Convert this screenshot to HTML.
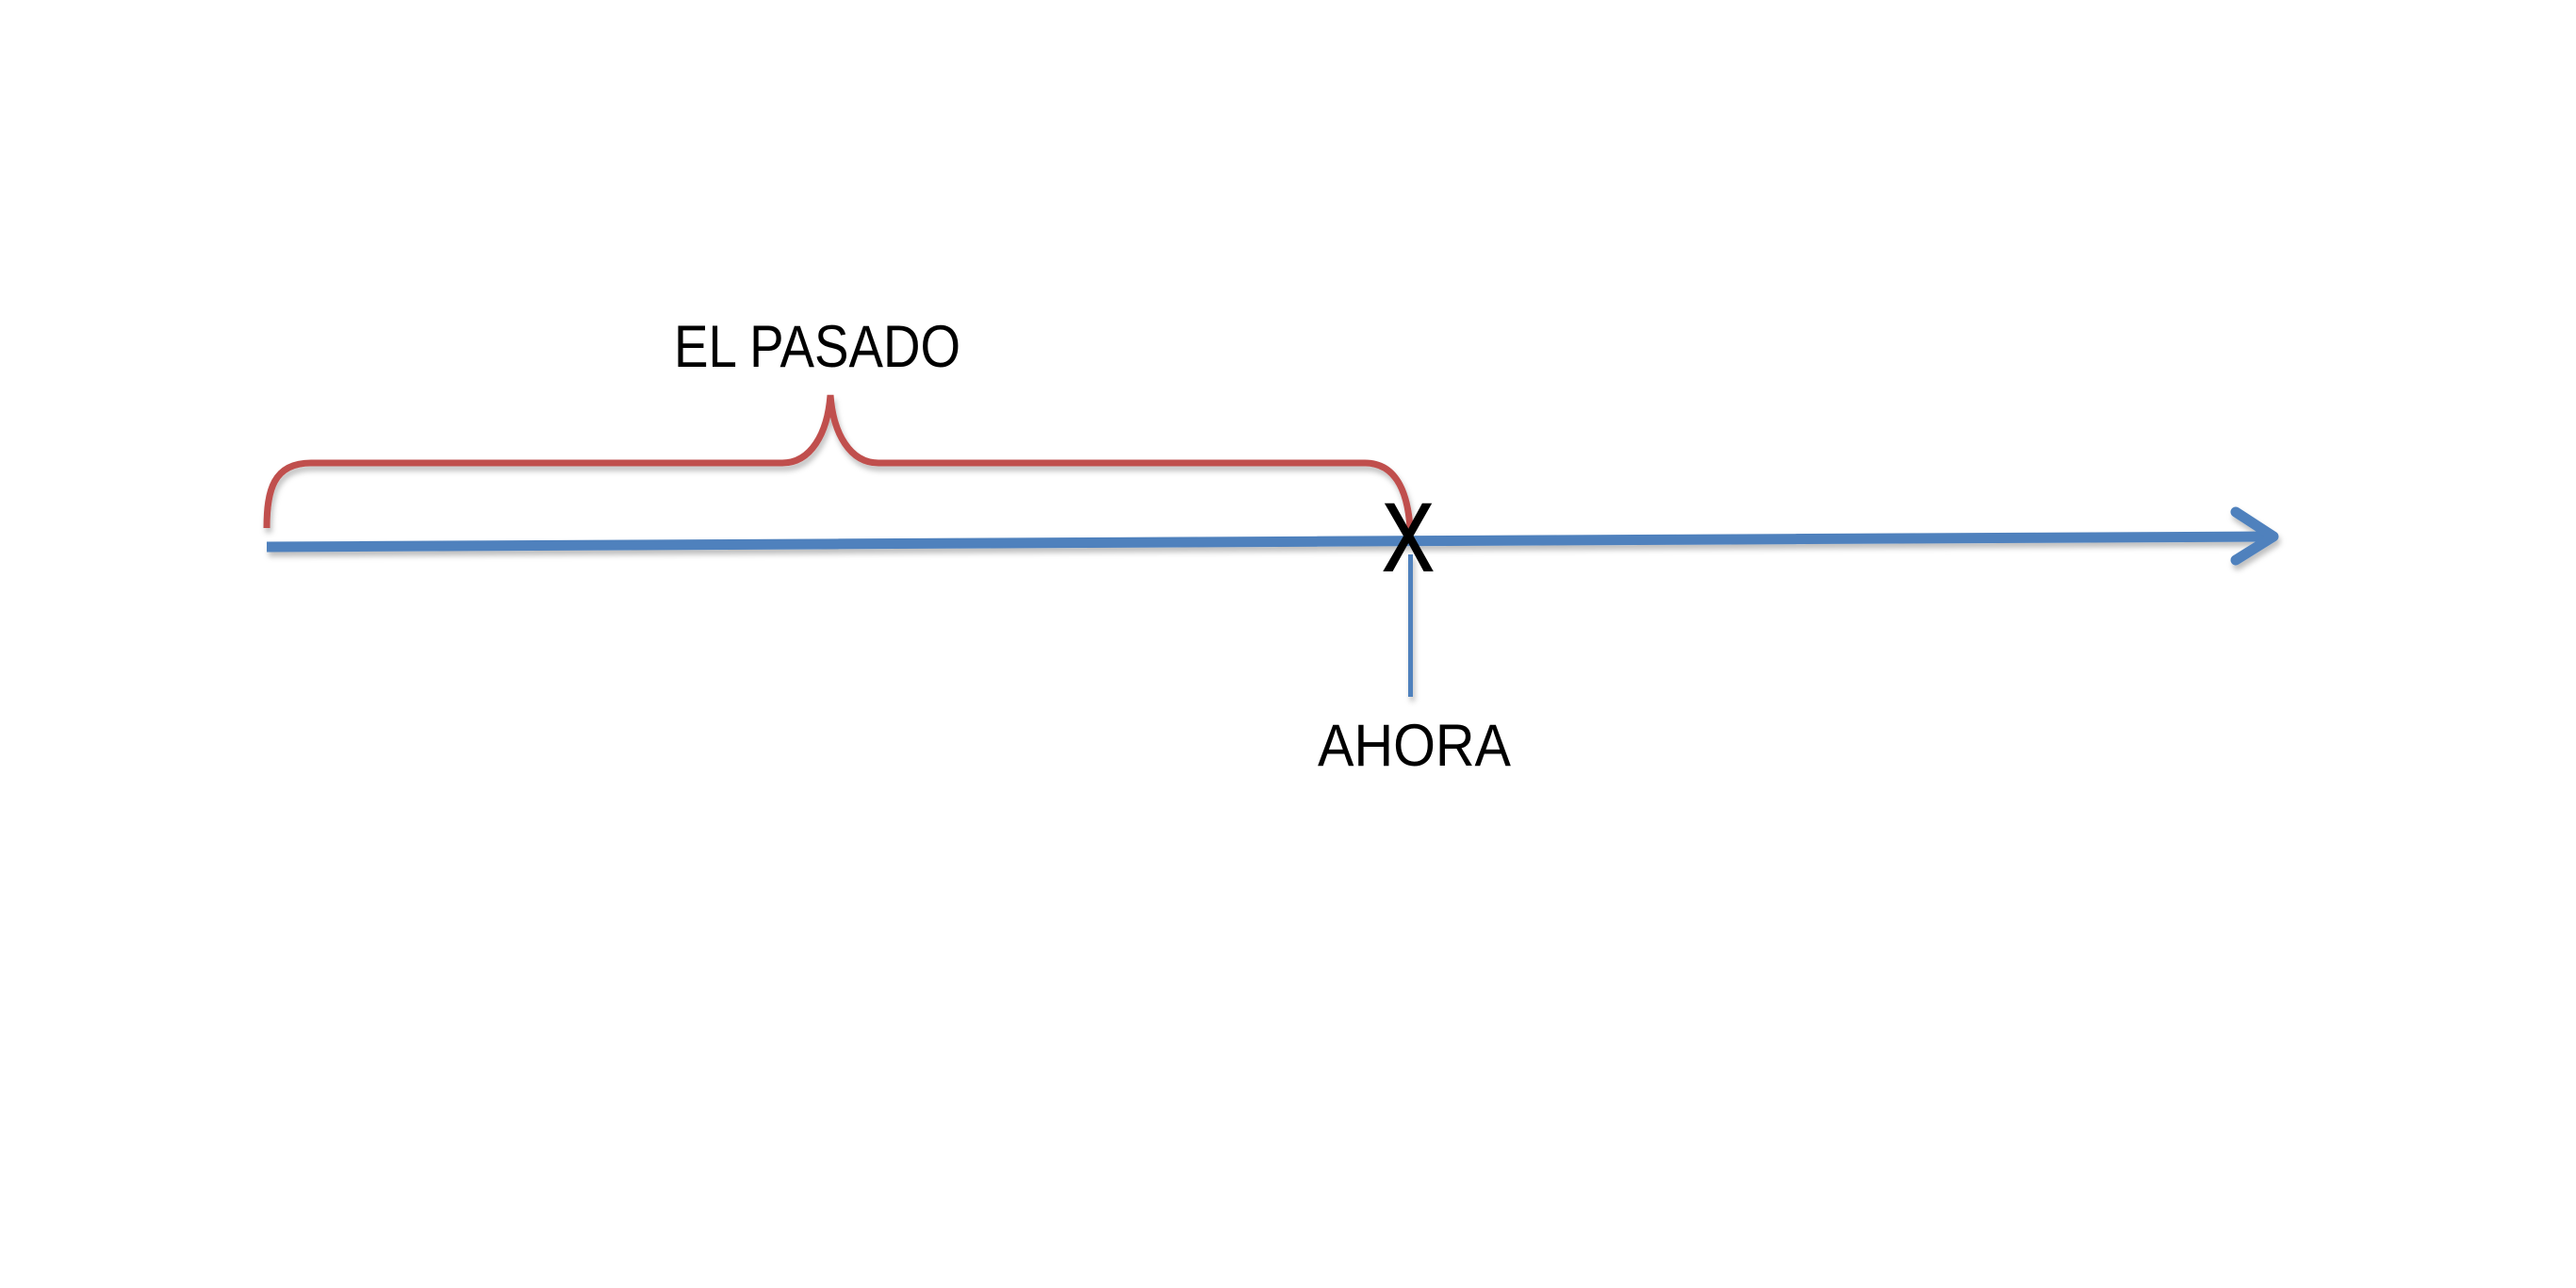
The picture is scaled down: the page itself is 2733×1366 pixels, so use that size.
<!DOCTYPE html>
<html><head><meta charset="utf-8"><style>
html,body{margin:0;padding:0;background:#fff;width:2733px;height:1366px;overflow:hidden}
text{font-family:"Liberation Sans",sans-serif}
</style></head><body>
<svg width="2733" height="1366" viewBox="0 0 2733 1366">
<defs><filter id="sh" filterUnits="userSpaceOnUse" x="0" y="0" width="2733" height="1366"><feDropShadow dx="2" dy="5" stdDeviation="3" flood-color="#000" flood-opacity="0.25"/></filter></defs>
<g filter="url(#sh)">
<path d="M283,560 C283,520 290,491 330,491 L830,491 C860,491 878,460 881,419 C884,460 902,491 932,491 L1448,491 C1485,491 1494,530 1496,560" fill="none" stroke="#c0504d" stroke-width="7"/>
</g>
<g filter="url(#sh)">
<line x1="283" y1="580" x2="2410" y2="569" stroke="#4f81bd" stroke-width="11"/>
<polyline points="2372,543 2412,569 2372,594" fill="none" stroke="#4f81bd" stroke-width="11" stroke-linecap="round" stroke-linejoin="round"/>
</g>
<g filter="url(#sh)">
<rect x="1494" y="588" width="5" height="151" fill="#4f81bd"/>
</g>
<text x="1494" y="605" font-size="102" text-anchor="middle" textLength="54" lengthAdjust="spacingAndGlyphs" stroke="#000" stroke-width="2">X</text>
<text x="715" y="389" font-size="63" textLength="304" lengthAdjust="spacingAndGlyphs">EL PASADO</text>
<text x="1398" y="812" font-size="63" textLength="205" lengthAdjust="spacingAndGlyphs">AHORA</text>
</svg>
</body></html>
